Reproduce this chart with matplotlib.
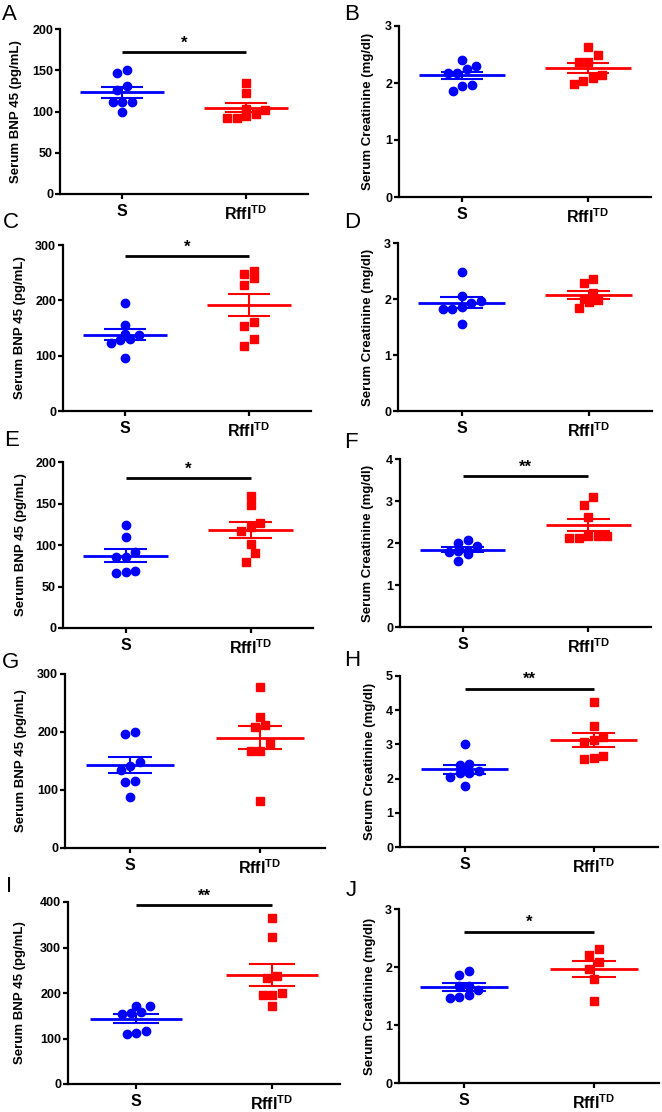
import numpy as np
import matplotlib.pyplot as plt

plt.rcParams['font.family'] = ['Liberation Sans', 'DejaVu Sans']
plt.rcParams['font.weight'] = 'bold'
plt.rcParams['mathtext.fontset'] = 'custom'
plt.rcParams['mathtext.sf'] = 'Liberation Sans:bold'

# ==== data ====
GROUPS = ['S', r'Rffl$^{\mathsf{TD}}$']
BNP_LABEL = 'Serum BNP 45 (pg/mL)'
CRE_LABEL = 'Serum Creatinine (mg/dl)'

bnp_a_s = [150, 147, 131, 126, 111, 111, 111, 100]
bnp_a_r = [135, 122, 103, 102, 97, 95, 92, 92]
cre_b_s = [2.40, 2.29, 2.25, 2.18, 2.17, 1.96, 1.95, 1.86]
cre_b_r = [2.64, 2.49, 2.37, 2.36, 2.14, 2.08, 2.04, 1.99]
bnp_c_s = [195, 156, 139, 137, 131, 129, 123, 96]
bnp_c_r = [253, 247, 241, 227, 160, 153, 130, 118]
cre_d_s = [2.49, 2.05, 1.96, 1.93, 1.85, 1.83, 1.83, 1.56]
cre_d_r = [2.36, 2.29, 2.10, 2.00, 1.99, 1.94, 1.84]
bnp_e_s = [124, 110, 92, 85, 85, 69, 67.5, 66]
bnp_e_r = [159, 148, 126, 122, 117, 101, 90, 80]
cre_f_s = [2.06, 2.01, 1.94, 1.82, 1.80, 1.78, 1.75, 1.56]
cre_f_r = [3.10, 2.91, 2.62, 2.17, 2.17, 2.17, 2.12, 2.12]
bnp_g_s = [200, 196, 149, 142, 135, 116, 113, 88]
bnp_g_r = [278, 226, 212, 209, 181, 167, 167, 81]
cre_h_s = [3.00, 2.43, 2.41, 2.22, 2.16, 2.15, 2.05, 1.77]
cre_h_r = [4.25, 3.53, 3.22, 3.12, 3.08, 2.65, 2.61, 2.57]
bnp_i_s = [172.5, 171, 159, 157, 153, 116, 112, 109]
bnp_i_r = [365, 324, 238, 233, 200, 196, 195, 172]
cre_j_s = [1.93, 1.87, 1.68, 1.68, 1.61, 1.51, 1.49, 1.47]
cre_j_r = [2.31, 2.21, 2.09, 1.97, 1.79, 1.42]

# letter, S values, Rffl values, y max, y step, y label, significance, bar height
PANELS = [
    ('A', bnp_a_s, bnp_a_r, 200, 50, BNP_LABEL, '*', 172),
    ('B', cre_b_s, cre_b_r, 3, 1, CRE_LABEL, None, None),
    ('C', bnp_c_s, bnp_c_r, 300, 100, BNP_LABEL, '*', 280),
    ('D', cre_d_s, cre_d_r, 3, 1, CRE_LABEL, None, None),
    ('E', bnp_e_s, bnp_e_r, 200, 50, BNP_LABEL, '*', 181),
    ('F', cre_f_s, cre_f_r, 4, 1, CRE_LABEL, '**', 3.6),
    ('G', bnp_g_s, bnp_g_r, 300, 100, BNP_LABEL, None, None),
    ('H', cre_h_s, cre_h_r, 5, 1, CRE_LABEL, '**', 4.63),
    ('I', bnp_i_s, bnp_i_r, 400, 100, BNP_LABEL, '**', 393),
    ('J', cre_j_s, cre_j_r, 3, 1, CRE_LABEL, '*', 2.61),
]

# ==== layout (pixels) ====
W, H = 662, 1112
# left, right, top, bottom of each plot area
BOXES = [
    (60, 308, 29, 194), (399, 651, 26, 197),
    (63, 311, 245, 411), (398, 652, 243, 411),
    (63, 313, 462, 628), (400, 651, 459, 627),
    (65, 325, 674, 848), (400, 658, 676, 847),
    (68, 340, 902, 1084), (399, 659, 909, 1083),
]
LETTER_POS = [(2, 15), (344, 15), (3, 222), (344, 222), (4, 441),
              (344, 442), (2, 662), (344, 660), (6, 886), (346, 890)]
YLABEL_X = [22, 374, 26, 374, 27, 374, 27, 376, 26, 376]

BLUE = '#0000ff'
RED = '#ff0000'
SPACING = 9.5   # horizontal distance between neighbours, px
ROW_GAP = 8.8   # points closer than this (px) share a row


def px_axes(fig, box):
    left, right, top, bottom = box
    return fig.add_axes([left / W, 1 - bottom / H, (right - left) / W, (bottom - top) / H])


def swarm_offsets(ax, vals):
    # prism-like scatter: points of similar value go side by side
    vals = np.asarray(vals, float)
    ypx = ax.transData.transform(np.column_stack([np.zeros_like(vals), vals]))[:, 1]
    x_unit = ax.transData.transform([(1, 0)])[0, 0] - ax.transData.transform([(0, 0)])[0, 0]
    offs = np.zeros(len(vals))
    order = np.argsort(vals, kind='stable')

    def flush(row):
        n = len(row)
        for k, i in enumerate(row):
            offs[i] = (k - (n - 1) / 2) * SPACING / x_unit

    row = []
    for i in order:
        if row and ypx[i] - ypx[row[0]] >= ROW_GAP:
            flush(row)
            row = []
        row.append(i)
    flush(row)
    return offs


def draw_group(ax, x, vals, color, marker, ms):
    vals = np.asarray(vals, float)
    offs = swarm_offsets(ax, vals)
    ax.plot(x + offs, vals, linestyle='none', marker=marker, ms=ms,
            color=color, mec=color, zorder=2, clip_on=False)
    mean = vals.mean()
    sem = vals.std(ddof=1) / np.sqrt(len(vals))
    ax.hlines(mean, x - 0.34, x + 0.34, color=color, lw=2, zorder=3)
    ax.hlines([mean - sem, mean + sem], x - 0.17, x + 0.17, color=color, lw=1.5, zorder=3)
    ax.vlines(x, mean - sem, mean + sem, color=color, lw=1.5, zorder=3)


fig = plt.figure(figsize=(W / 100, H / 100), dpi=100)

for idx, (letter, s_vals, r_vals, ymax, ystep, ylabel, sig, sig_y) in enumerate(PANELS):
    ax = px_axes(fig, BOXES[idx])
    ax.set_xlim(-0.5, 1.5)
    ax.set_ylim(0, ymax)
    ax.set_yticks(np.arange(0, ymax + ystep / 2, ystep))
    ax.set_xticks([0, 1])
    ax.set_xticklabels(GROUPS, fontsize=11.5, fontweight='bold')
    for lab in ax.get_yticklabels():
        lab.set_fontsize(9)
        lab.set_fontweight('bold')
    ax.spines['top'].set_visible(False)
    ax.spines['right'].set_visible(False)
    ax.spines['left'].set_linewidth(1.6)
    ax.spines['bottom'].set_linewidth(1.6)
    ax.tick_params(axis='both', direction='out', length=3.5, width=1.6, pad=1.5)
    ax.tick_params(axis='x', pad=4)

    ax.set_ylabel(ylabel, fontsize=9.5, fontweight='bold')
    ax.yaxis.set_label_coords(YLABEL_X[idx] / W, 1 - (BOXES[idx][2] + BOXES[idx][3]) / 2 / H,
                              transform=fig.transFigure)

    draw_group(ax, 0, s_vals, BLUE, 'o', 6)
    draw_group(ax, 1, r_vals, RED, 's', 5.5)

    if sig is not None:
        ax.hlines(sig_y, 0, 1, color='black', lw=2, clip_on=False)
        ax.annotate(sig, xy=(0.5, sig_y), xytext=(0, 1), textcoords='offset points',
                    ha='center', va='bottom', fontsize=12, fontweight='bold')

    lx, ly = LETTER_POS[idx]
    fig.text(lx / W, 1 - ly / H, letter, fontsize=16, fontweight='normal',
             ha='left', va='center')

fig.savefig('out.png', dpi=100)
